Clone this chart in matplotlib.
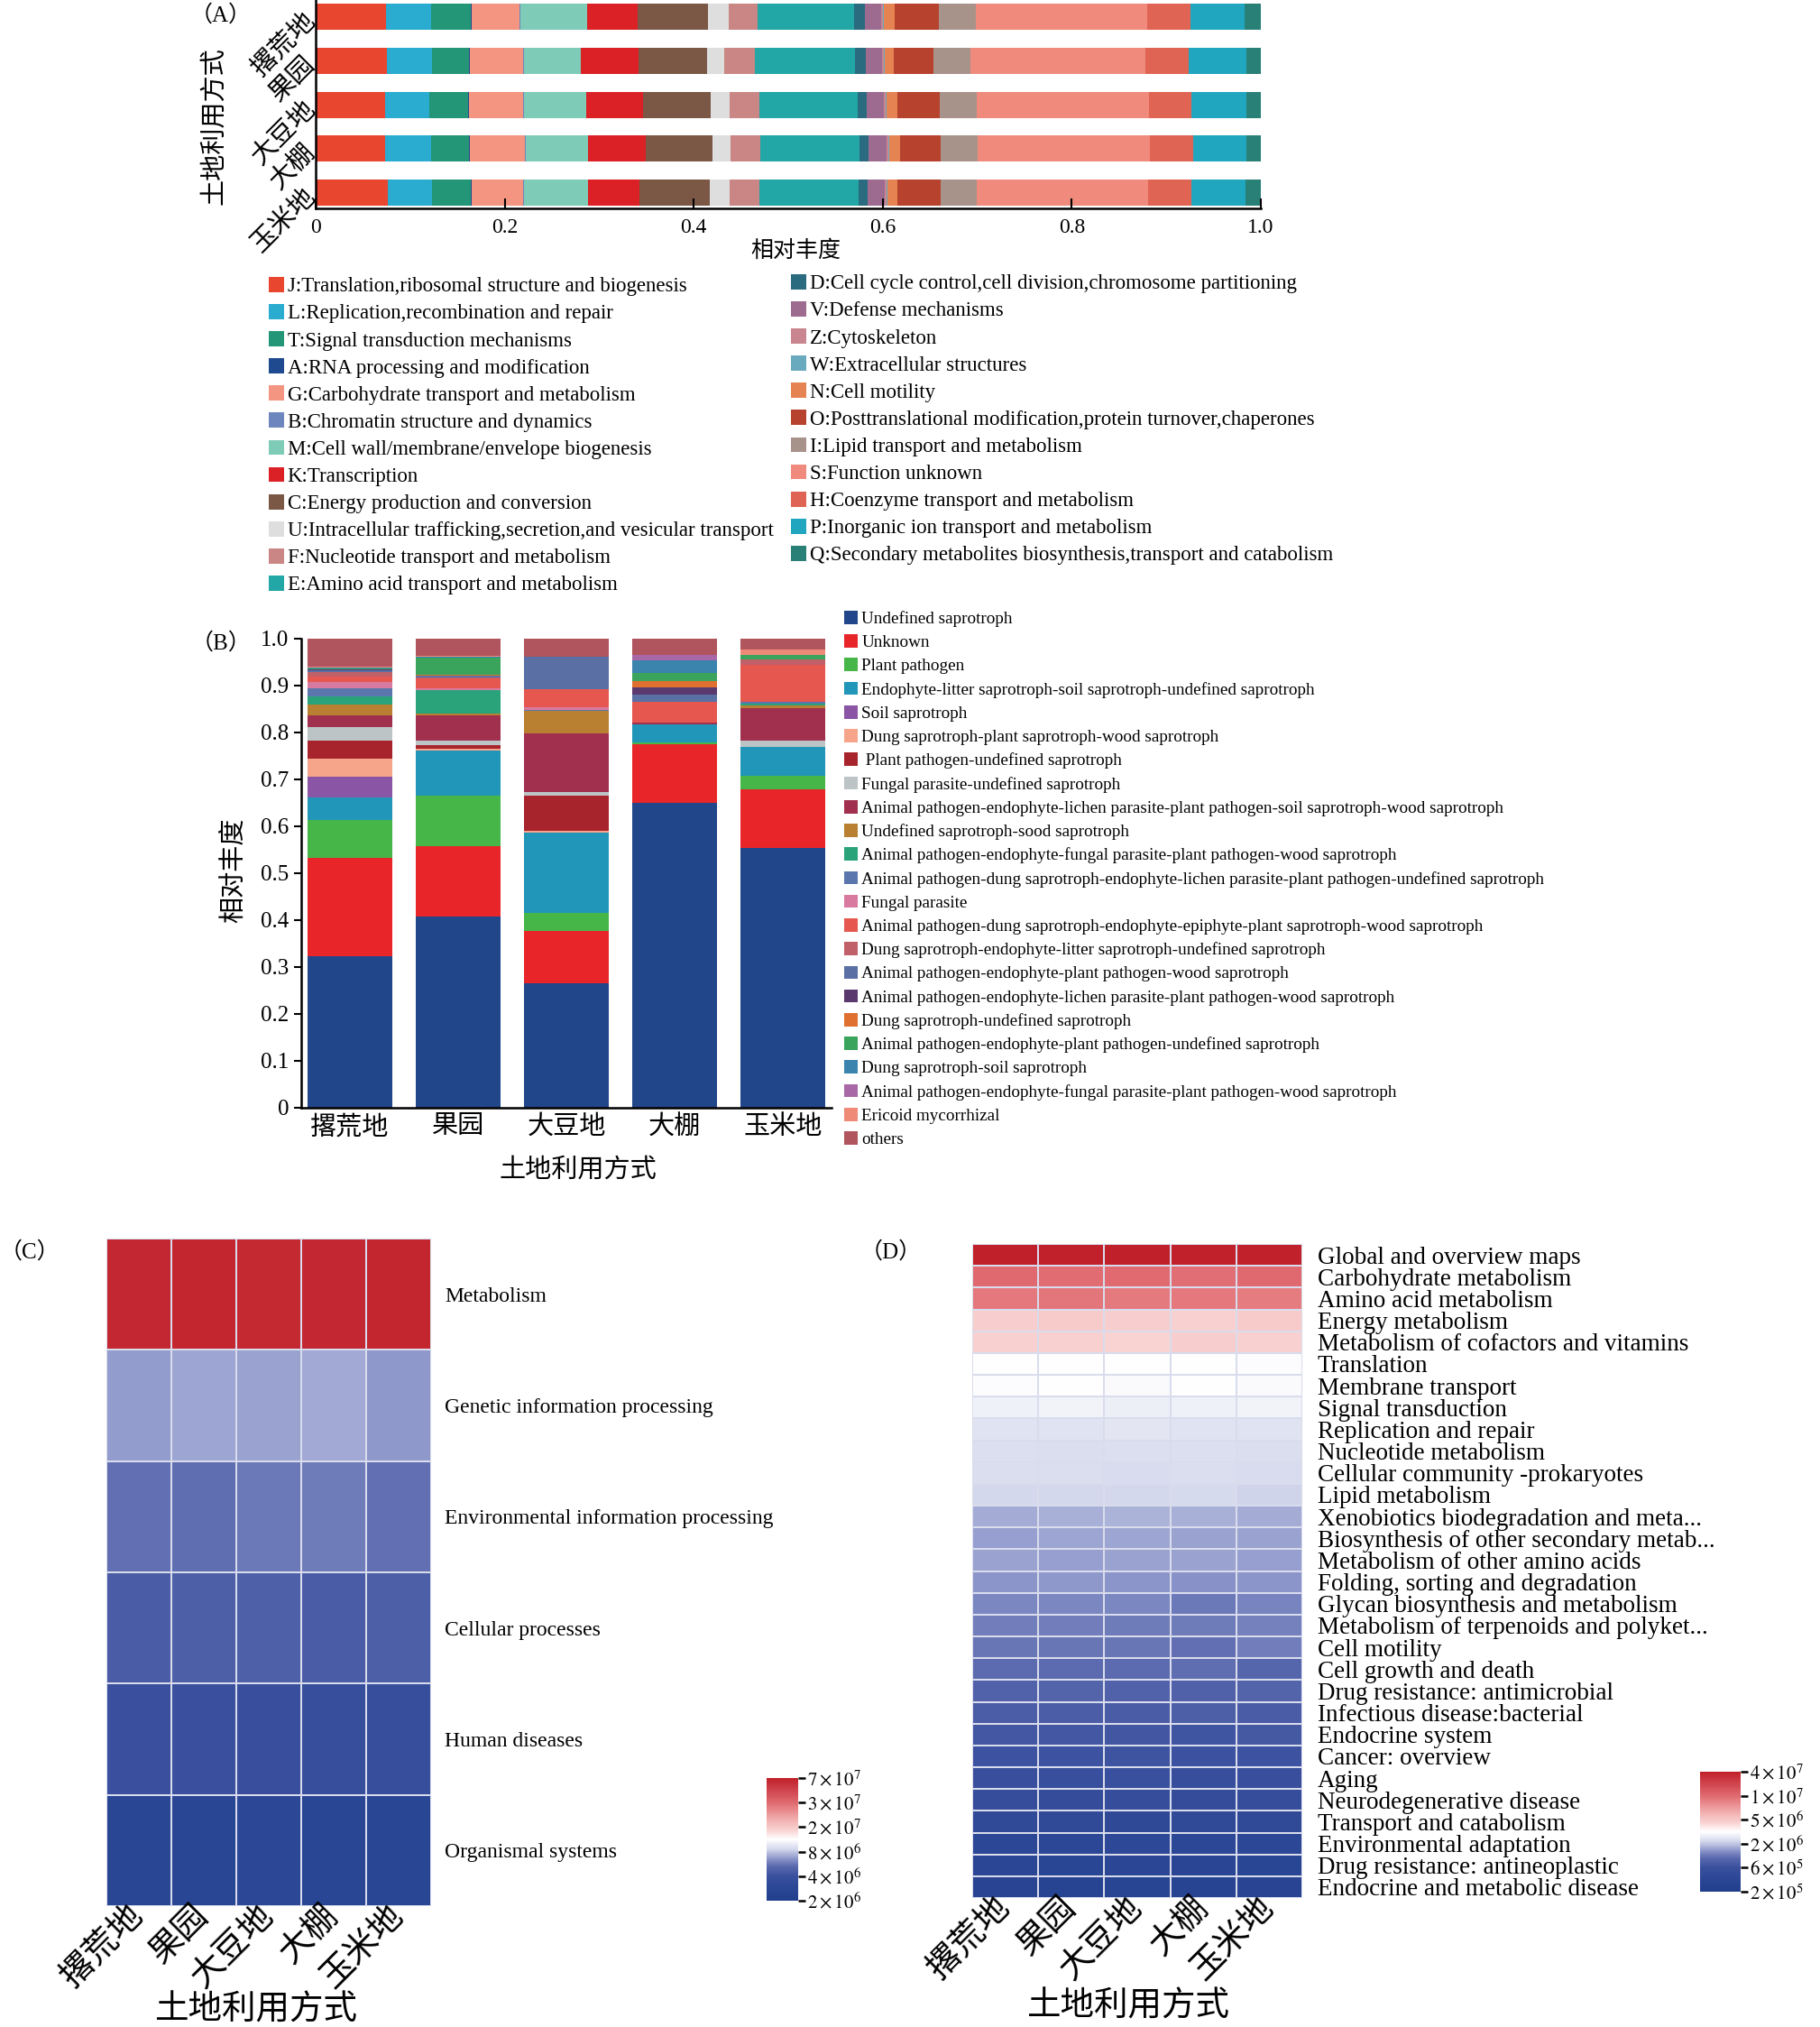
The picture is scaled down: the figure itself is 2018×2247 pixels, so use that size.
import matplotlib
matplotlib.use('Agg')
import matplotlib.pyplot as plt
import numpy as np
from matplotlib.colors import LinearSegmentedColormap, FuncNorm
from matplotlib.patches import Patch
from matplotlib.cm import ScalarMappable
from matplotlib.transforms import ScaledTranslation

plt.rcParams['font.family'] = ['Liberation Serif', 'Noto Sans CJK SC']
plt.rcParams['mathtext.fontset'] = 'stix'
plt.rcParams['axes.unicode_minus'] = False

W, H = 2018, 2247

# ---------------- data ----------------
sites = ['撂荒地', '果园', '大豆地', '大棚', '玉米地']

# (A) COG functional categories, share per site
cog_labels = [
    'J:Translation,ribosomal structure and biogenesis',
    'L:Replication,recombination and repair',
    'T:Signal transduction mechanisms',
    'A:RNA processing and modification',
    'G:Carbohydrate transport and metabolism',
    'B:Chromatin structure and dynamics',
    'M:Cell wall/membrane/envelope biogenesis',
    'K:Transcription',
    'C:Energy production and conversion',
    'U:Intracellular trafficking,secretion,and vesicular transport',
    'F:Nucleotide transport and metabolism',
    'E:Amino acid transport and metabolism',
    'D:Cell cycle control,cell division,chromosome partitioning',
    'V:Defense mechanisms',
    'Z:Cytoskeleton',
    'W:Extracellular structures',
    'N:Cell motility',
    'O:Posttranslational modification,protein turnover,chaperones',
    'I:Lipid transport and metabolism',
    'S:Function unknown',
    'H:Coenzyme transport and metabolism',
    'P:Inorganic ion transport and metabolism',
    'Q:Secondary metabolites biosynthesis,transport and catabolism',
]
cog_colors = ['#e8462f', '#2aabd0', '#229677', '#1f4a8f', '#f39580', '#6d86bd',
              '#7ecbb8', '#dc2126', '#7b5845', '#dedede', '#c98684', '#22a6a6',
              '#2a6b80', '#9e6b90', '#c98590', '#6aaabf', '#e58452', '#b7422d',
              '#a8938b', '#ef8a7c', '#e06453', '#21a6c0', '#288077']
cog_share = [
    [0.074, 0.075, 0.073, 0.073, 0.076],
    [0.048, 0.048, 0.047, 0.049, 0.047],
    [0.042, 0.039, 0.041, 0.040, 0.041],
    [0.001, 0.001, 0.001, 0.001, 0.001],
    [0.051, 0.056, 0.057, 0.058, 0.054],
    [0.001, 0.001, 0.001, 0.001, 0.001],
    [0.070, 0.061, 0.066, 0.066, 0.068],
    [0.054, 0.061, 0.060, 0.061, 0.055],
    [0.074, 0.072, 0.072, 0.071, 0.074],
    [0.022, 0.018, 0.020, 0.019, 0.021],
    [0.031, 0.033, 0.031, 0.031, 0.031],
    [0.102, 0.106, 0.104, 0.105, 0.105],
    [0.011, 0.011, 0.010, 0.010, 0.010],
    [0.017, 0.017, 0.018, 0.019, 0.018],
    [0.002, 0.002, 0.002, 0.002, 0.002],
    [0.001, 0.001, 0.001, 0.001, 0.001],
    [0.012, 0.010, 0.011, 0.011, 0.010],
    [0.046, 0.042, 0.045, 0.043, 0.046],
    [0.039, 0.039, 0.039, 0.039, 0.038],
    [0.182, 0.185, 0.183, 0.183, 0.182],
    [0.046, 0.046, 0.045, 0.045, 0.046],
    [0.057, 0.061, 0.058, 0.057, 0.057],
    [0.017, 0.015, 0.015, 0.015, 0.016],
]

# (B) fungal guilds, share per site
guild_labels = [
    'Undefined saprotroph', 'Unknown', 'Plant pathogen',
    'Endophyte-litter saprotroph-soil saprotroph-undefined saprotroph',
    'Soil saprotroph', 'Dung saprotroph-plant saprotroph-wood saprotroph',
    ' Plant pathogen-undefined saprotroph', 'Fungal parasite-undefined saprotroph',
    'Animal pathogen-endophyte-lichen parasite-plant pathogen-soil saprotroph-wood saprotroph',
    'Undefined saprotroph-sood saprotroph',
    'Animal pathogen-endophyte-fungal parasite-plant pathogen-wood saprotroph',
    'Animal pathogen-dung saprotroph-endophyte-lichen parasite-plant pathogen-undefined saprotroph',
    'Fungal parasite',
    'Animal pathogen-dung saprotroph-endophyte-epiphyte-plant saprotroph-wood saprotroph',
    'Dung saprotroph-endophyte-litter saprotroph-undefined saprotroph',
    'Animal pathogen-endophyte-plant pathogen-wood saprotroph',
    'Animal pathogen-endophyte-lichen parasite-plant pathogen-wood saprotroph',
    'Dung saprotroph-undefined saprotroph',
    'Animal pathogen-endophyte-plant pathogen-undefined saprotroph',
    'Dung saprotroph-soil saprotroph',
    'Animal pathogen-endophyte-fungal parasite-plant pathogen-wood saprotroph',
    'Ericoid mycorrhizal', 'others',
]
guild_colors = ['#22468a', '#e8262a', '#47b649', '#2196b8', '#8a55a5', '#f7a58a',
                '#a8242c', '#bcc4c6', '#a0304e', '#b88030', '#2aa37a', '#5b76ac',
                '#d87aa0', '#e5574f', '#c06068', '#5a6fa4', '#5a3a6e', '#e07030',
                '#3aa45c', '#3a84ae', '#a868a8', '#f08a78', '#b0545e']
guild_share = [
    [0.323, 0.408, 0.265, 0.650, 0.553],
    [0.209, 0.150, 0.112, 0.125, 0.126],
    [0.081, 0.108, 0.038, 0.004, 0.029],
    [0.048, 0.095, 0.171, 0.039, 0.061],
    [0.045, 0.001, 0.001, 0.000, 0.000],
    [0.039, 0.003, 0.003, 0.000, 0.000],
    [0.038, 0.009, 0.076, 0.000, 0.000],
    [0.029, 0.009, 0.007, 0.000, 0.014],
    [0.025, 0.054, 0.125, 0.004, 0.069],
    [0.022, 0.003, 0.048, 0.000, 0.005],
    [0.018, 0.050, 0.001, 0.000, 0.004],
    [0.017, 0.001, 0.001, 0.000, 0.005],
    [0.014, 0.003, 0.005, 0.000, 0.000],
    [0.011, 0.022, 0.039, 0.044, 0.079],
    [0.010, 0.002, 0.001, 0.000, 0.010],
    [0.003, 0.003, 0.068, 0.015, 0.000],
    [0.002, 0.001, 0.000, 0.016, 0.000],
    [0.001, 0.001, 0.000, 0.013, 0.000],
    [0.002, 0.037, 0.000, 0.016, 0.011],
    [0.001, 0.001, 0.000, 0.028, 0.000],
    [0.001, 0.001, 0.000, 0.012, 0.000],
    [0.001, 0.001, 0.000, 0.000, 0.011],
    [0.060, 0.037, 0.039, 0.034, 0.023],
]

# (C) KEGG level 1 abundance (x 1e6)
kegg1_labels = ['Metabolism', 'Genetic information processing',
                'Environmental information processing', 'Cellular processes',
                'Human diseases', 'Organismal systems']
kegg1_values = [
    [64.0, 65.0, 63.0, 64.0, 65.0],
    [6.7, 7.0, 6.9, 7.1, 6.6],
    [5.5, 5.4, 5.7, 5.8, 5.5],
    [4.6, 4.7, 4.8, 4.6, 4.7],
    [4.0, 4.0, 3.9, 3.8, 3.8],
    [2.8, 2.8, 2.9, 2.8, 2.8],
]
c_ticks = [2e6, 4e6, 8e6, 2e7, 3e7, 7e7]
c_tick_labels = [r'$2\times10^{6}$', r'$4\times10^{6}$', r'$8\times10^{6}$',
                 r'$2\times10^{7}$', r'$3\times10^{7}$', r'$7\times10^{7}$']

# (D) KEGG level 2 abundance (x 1e5)
kegg2_labels = [
    'Global and overview maps', 'Carbohydrate metabolism', 'Amino acid metabolism',
    'Energy metabolism', 'Metabolism of cofactors and vitamins', 'Translation',
    'Membrane transport', 'Signal transduction', 'Replication and repair',
    'Nucleotide metabolism', 'Cellular community -prokaryotes', 'Lipid metabolism',
    'Xenobiotics biodegradation and meta...', 'Biosynthesis of other secondary metab...',
    'Metabolism of other amino acids', 'Folding, sorting and degradation',
    'Glycan biosynthesis and metabolism', 'Metabolism of terpenoids and polyket...',
    'Cell motility', 'Cell growth and death', 'Drug resistance: antimicrobial',
    'Infectious disease:bacterial', 'Endocrine system', 'Cancer: overview', 'Aging',
    'Neurodegenerative disease', 'Transport and catabolism', 'Environmental adaptation',
    'Drug resistance: antineoplastic', 'Endocrine and metabolic disease',
]
kegg2_values = [
    [390, 385, 392, 380, 388],
    [102, 98, 100, 97, 101],
    [90, 92, 89, 91, 88],
    [47, 48, 47, 46, 48],
    [46, 46, 45, 47, 46],
    [32, 31.5, 32, 31.8, 31],
    [31, 31.5, 30.5, 31.2, 30],
    [27.5, 28, 27, 27.5, 28],
    [24.6, 24.2, 24.8, 24.3, 24.5],
    [23.5, 23.2, 23.6, 23.4, 23.3],
    [23, 23.2, 22.8, 23.1, 22.7],
    [21.9, 22.1, 21.8, 22.2, 21.7],
    [16.5, 17.2, 17.4, 17.0, 16.8],
    [15.2, 15.8, 15.7, 15.5, 15.6],
    [15.3, 15.1, 15.4, 15.6, 15.2],
    [14.0, 14.3, 14.1, 13.8, 14.2],
    [12.4, 12.5, 12.6, 11.2, 12.3],
    [11.6, 11.8, 11.5, 11.4, 11.9],
    [10.9, 11.0, 10.8, 10.5, 11.6],
    [9.9, 10.0, 9.8, 10.1, 9.2],
    [8.6, 8.7, 8.5, 8.4, 8.8],
    [7.8, 7.9, 7.7, 8.0, 7.6],
    [6.9, 7.0, 6.8, 6.7, 7.1],
    [6.4, 6.3, 6.5, 6.2, 6.4],
    [5.8, 5.7, 5.9, 5.6, 5.8],
    [5.1, 5.0, 5.2, 4.9, 5.1],
    [4.3, 4.4, 4.2, 4.3, 4.4],
    [3.8, 3.7, 3.9, 3.6, 3.8],
    [3.5, 3.4, 3.5, 3.3, 3.4],
    [3.1, 3.0, 3.2, 3.0, 3.1],
]
d_ticks = [2e5, 6e5, 2e6, 5e6, 1e7, 4e7]
d_tick_labels = [r'$2\times10^{5}$', r'$6\times10^{5}$', r'$2\times10^{6}$',
                 r'$5\times10^{6}$', r'$1\times10^{7}$', r'$4\times10^{7}$']


# ---------------- helpers ----------------
def box(l, t, r, b):
    # pixel box -> figure fraction rect
    return [l / W, 1 - b / H, (r - l) / W, (b - t) / H]


def ftext(x, y, s, **kw):
    fig.text(x / W, 1 - y / H, s, ha=kw.pop('ha', 'center'), va=kw.pop('va', 'center'), **kw)


def tick_norm(ticks):
    # ticks are evenly spaced on the colour bar
    pos = np.linspace(0, 1, len(ticks))
    lt = np.log10(ticks)
    fwd = lambda v: np.interp(np.log10(np.clip(np.asarray(v, float), 1e-3, None)), lt, pos)
    inv = lambda p: 10 ** np.interp(np.asarray(p, float), pos, lt)
    return FuncNorm((fwd, inv), vmin=ticks[0], vmax=ticks[-1])


cmap = LinearSegmentedColormap.from_list('kegg', [
    (0.0, '#213f8d'), (0.1, '#2a4694'), (0.2, '#3a509e'), (0.28, '#5a69ae'),
    (0.34, '#8a94c9'), (0.42, '#d4d8ec'), (0.5, '#ffffff'), (0.58, '#f9d0d0'),
    (0.66, '#f2b0b0'), (0.8, '#e06a70'), (1.0, '#c0202a')])

fig = plt.figure(figsize=(W / 100, H / 100), dpi=100)
fig.patch.set_facecolor('white')

# ---------------- (A) ----------------
axA = fig.add_axes(box(350, 0, 1398, 231))
ypos = np.arange(len(sites))[::-1]
left = np.zeros(len(sites))
for col, vals in zip(cog_colors, cog_share):
    axA.barh(ypos, vals, left=left, height=0.6, color=col, linewidth=0)
    left += np.array(vals)
axA.set_xlim(0, 1.0)
axA.set_ylim(-0.36, 4.385)
axA.set_xticks([0, 0.2, 0.4, 0.6, 0.8, 1.0])
axA.set_xticklabels(['0', '0.2', '0.4', '0.6', '0.8', '1.0'])
axA.set_yticks(ypos)
axA.set_yticklabels(sites, rotation=45, ha='right', va='center', rotation_mode='anchor', fontsize=21)
axA.tick_params(axis='y', length=0, pad=3)
axA.tick_params(axis='x', direction='in', length=8, width=1.5, labelsize=17, pad=8)
for s in ['top', 'right']:
    axA.spines[s].set_visible(False)
for s in ['left', 'bottom']:
    axA.spines[s].set_linewidth(1.8)
ftext(245, 17, '（A）', fontsize=18)
ftext(238, 140, '土地利用方式', rotation=90, fontsize=21)
ftext(882, 278, '相对丰度', fontsize=18)

hA = [Patch(facecolor=c, edgecolor='none') for c in cog_colors]
legA_kw = dict(loc='upper left', frameon=False, fontsize=16.5, handlelength=0.75, handleheight=0.75,
               handletextpad=0.15, labelspacing=0.38, borderpad=0, borderaxespad=0)
fig.legend(hA[:12], cog_labels[:12], bbox_to_anchor=(298 / W, 1 - 307 / H), **legA_kw)
fig.legend(hA[12:], cog_labels[12:], bbox_to_anchor=(877 / W, 1 - 304 / H), **legA_kw)

# ---------------- (B) ----------------
axB = fig.add_axes(box(334, 708, 922, 1228))
xb = np.arange(len(sites))
bottom = np.zeros(len(sites))
for col, vals in zip(guild_colors, guild_share):
    axB.bar(xb, vals, bottom=bottom, width=0.78, color=col, linewidth=0)
    bottom += np.array(vals)
axB.set_xlim(-0.45, 4.45)
axB.set_ylim(0, 1.0)
yt = np.round(np.arange(0, 1.01, 0.1), 1)
axB.set_yticks(yt)
axB.set_yticklabels(['0'] + [f'{v:.1f}' for v in yt[1:]])
axB.set_xticks(xb)
axB.set_xticklabels(sites, fontsize=21)
axB.tick_params(axis='x', length=0, pad=6)
axB.tick_params(axis='y', direction='out', length=6, width=1.5, labelsize=18, pad=4)
for s in ['top', 'right']:
    axB.spines[s].set_visible(False)
for s in ['left', 'bottom']:
    axB.spines[s].set_linewidth(1.8)
ftext(245, 713, '（B）', fontsize=18)
ftext(259, 965, '相对丰度', rotation=90, fontsize=21)
ftext(641, 1297, '土地利用方式', fontsize=21)

hB = [Patch(facecolor=c, edgecolor='none') for c in guild_colors]
fig.legend(hB, guild_labels, loc='upper left', bbox_to_anchor=(936 / W, 1 - 677 / H),
           frameon=False, fontsize=13.8, handlelength=0.8, handleheight=0.8,
           handletextpad=0.2, labelspacing=0.43, borderpad=0, borderaxespad=0)


# ---------------- (C) / (D) heatmaps ----------------
def heatmap(rect, values, scale, labels, ticks, tick_labels, cbar_rect, row_fs, row_pad):
    ax = fig.add_axes(box(*rect))
    data = np.array(values) * scale
    norm = tick_norm(ticks)
    ax.pcolormesh(data, cmap=cmap, norm=norm, edgecolors='#d9dcec', linewidth=1.2)
    ax.set_xlim(0, data.shape[1])
    ax.set_ylim(data.shape[0], 0)
    ax.yaxis.tick_right()
    ax.set_yticks(np.arange(data.shape[0]) + 0.5)
    ax.set_yticklabels(labels, fontsize=row_fs)
    ax.set_xticks(np.arange(data.shape[1]) + 0.5)
    ax.set_xticklabels(sites, rotation=45, ha='right', va='center',
                       rotation_mode='anchor', fontsize=27)
    off = ScaledTranslation(0.22, 0, fig.dpi_scale_trans)
    for lbl in ax.get_xticklabels():
        lbl.set_transform(lbl.get_transform() + off)
    ax.tick_params(axis='y', length=0, pad=row_pad)
    ax.tick_params(axis='x', length=0, pad=4)
    for s in ax.spines.values():
        s.set_visible(False)
    cax = fig.add_axes(box(*cbar_rect))
    cb = fig.colorbar(ScalarMappable(norm=norm, cmap=cmap), cax=cax)
    cb.set_ticks(ticks)
    cb.set_ticklabels(tick_labels)
    cb.minorticks_off()
    cb.outline.set_visible(False)
    cax.tick_params(length=6, width=1.8, labelsize=15, pad=1)
    return ax


heatmap((118, 1373, 478, 2113), kegg1_values, 1e6, kegg1_labels, c_ticks, c_tick_labels,
        (850, 1971, 885, 2107), 17, 11)
ftext(0, 1388, '（C）', fontsize=18, ha='left')
ftext(284, 2229, '土地利用方式', fontsize=27)

heatmap((1078, 1379, 1444, 2104), kegg2_values, 1e5, kegg2_labels, d_ticks, d_tick_labels,
        (1885, 1964, 1930, 2097), 19.5, 12)
ftext(988, 1388, '（D）', fontsize=18)
ftext(1251, 2225, '土地利用方式', fontsize=27)

fig.savefig('out.png', dpi=100, facecolor='white')
